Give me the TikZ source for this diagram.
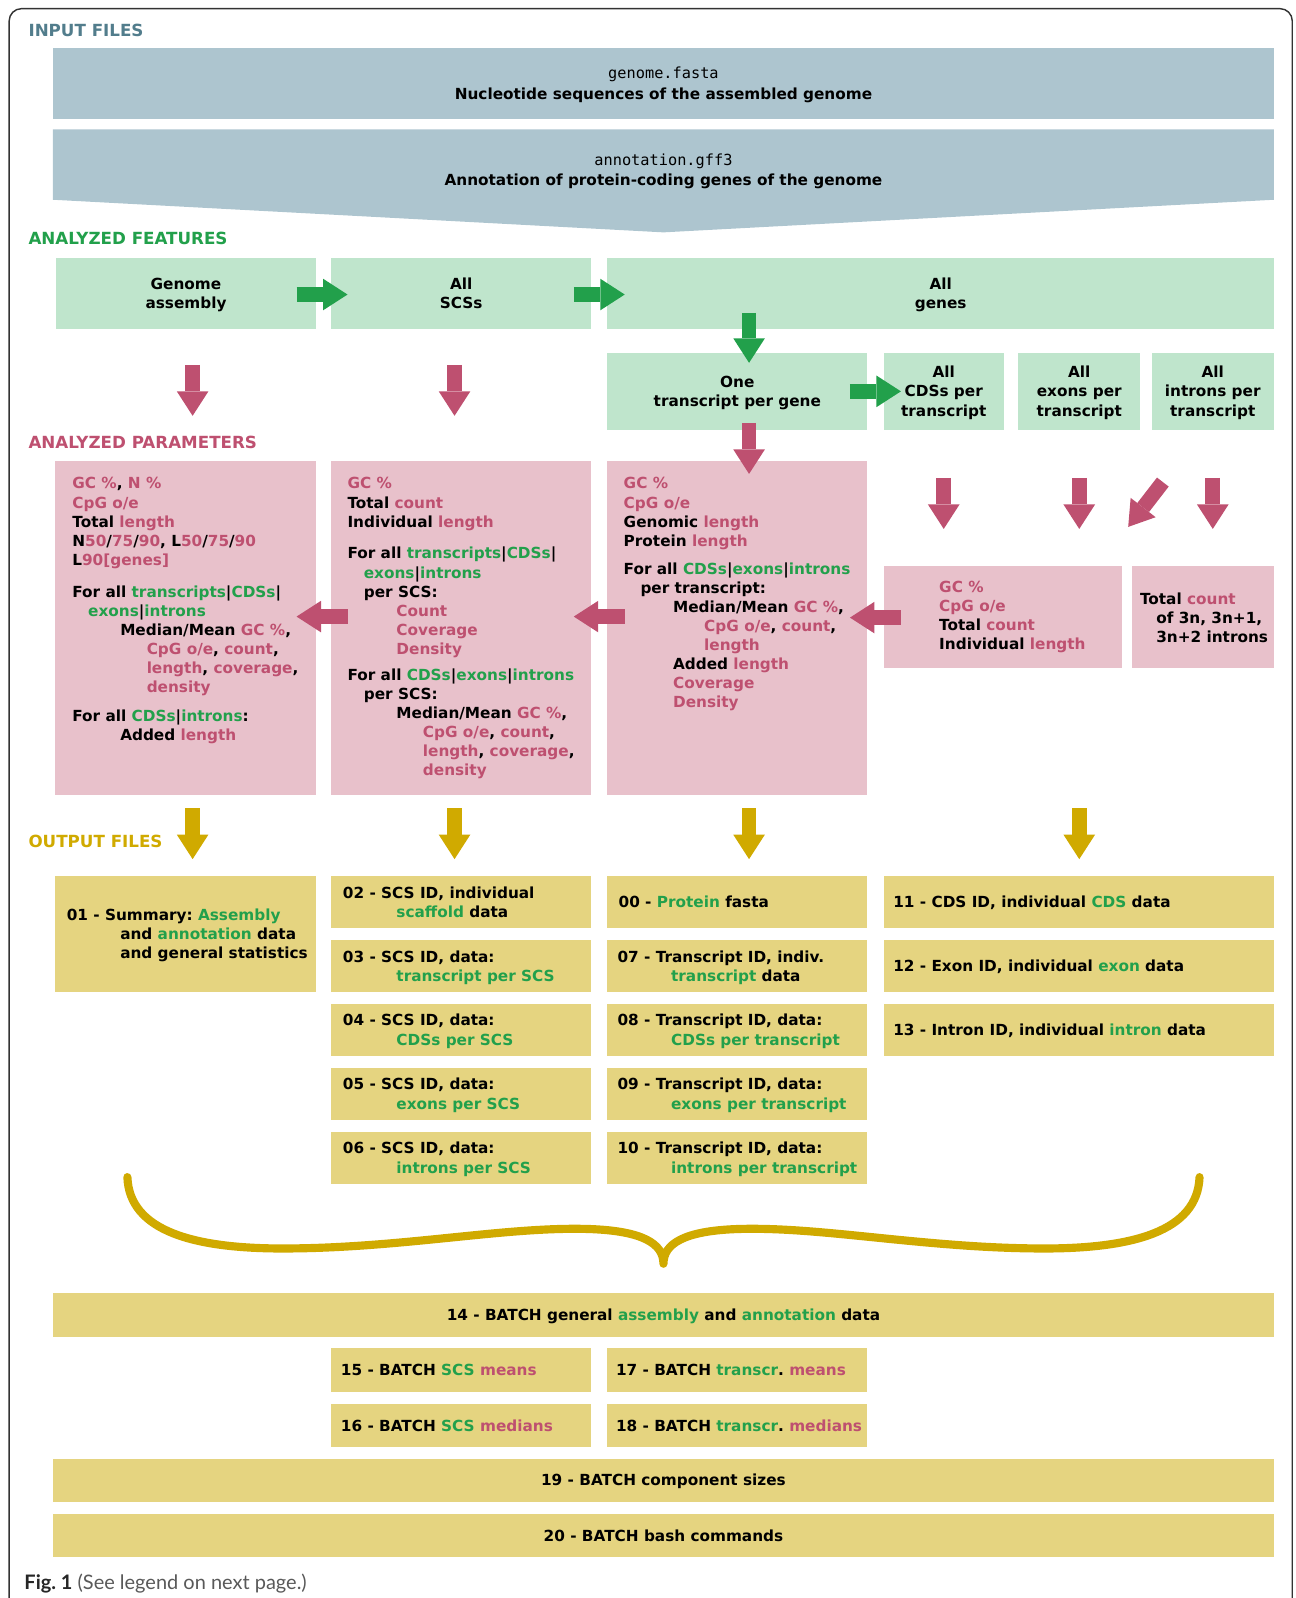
\documentclass[tikz,border=0pt]{standalone}
\usepackage{fontspec}
\setmainfont{DejaVu Sans}
\newfontfamily\monof{DejaVu Sans Mono}
\newfontfamily\capf{Lato}
\usetikzlibrary{arrows.meta}
\definecolor{inc}{RGB}{173,197,207}
\definecolor{inlab}{RGB}{82,125,140}
\definecolor{featc}{RGB}{191,229,204}
\definecolor{greent}{RGB}{34,160,75}
\definecolor{parc}{RGB}{232,193,203}
\definecolor{pinkt}{RGB}{190,80,112}
\definecolor{outc}{RGB}{229,212,128}
\definecolor{goldc}{RGB}{208,170,0}
\newcommand\pnk[1]{\textcolor{pinkt}{#1}}
\newcommand\grn[1]{\textcolor{greent}{#1}}
\newcommand\sth{\rule{0pt}{15.5pt}}
\newcommand\std{\rule[-4.6pt]{0pt}{4.6pt}}
\newcommand\fst{\rule{0pt}{13pt}}
\frenchspacing
\begin{document}
\begin{tikzpicture}[x=1pt,y=-1pt,
  every node/.style={inner sep=0pt,outer sep=0pt,font=\fontsize{15}{18.75}\selectfont\bfseries\frenchspacing},
  sz/.style 2 args={minimum width=#1pt,minimum height=#2pt},
  inbox/.style={fill=inc,align=center},
  featbox/.style={fill=featc,align=center},
  parbox/.style={fill=parc},
  outbox/.style={fill=outc,align=center},
  ptext/.style={anchor=north west,align=left},
  otext/.style={anchor=west,align=left},
  seclabel/.style={anchor=base west,font=\fontsize{16.4}{20}\selectfont\bfseries},
  blockarrow/.style={line width=14.5pt,-{Triangle[length=24pt,width=31pt,line width=0pt]}},
  garr/.style={blockarrow,draw=greent},
  parr/.style={blockarrow,draw=pinkt},
  oarr/.style={blockarrow,draw=goldc}]
\useasboundingbox (0,0) rectangle (1271,1568);
% frame
\draw[line width=1.4pt,draw=black!80,rounded corners=12pt] (9,1568) -- (9,8.5) -- (1268,8.5) -- (1268,1568);
% section labels
\node[seclabel,text=inlab] (lin) at (28,36) {INPUT FILES};
\node[seclabel,text=greent] (lfe) at (28,240) {ANALYZED FEATURES};
\node[seclabel,text=pinkt] (lpa) at (28,440) {ANALYZED PARAMETERS};
\node[seclabel,text=goldc] (lou) at (28,832) {OUTPUT FILES};
% input files
\node[inbox,sz={1198}{70}] (in1) at (651,82) {\sth{\mdseries\monof genome.fasta}\\[1.25pt]Nucleotide sequences of the assembled genome\std};
\fill[inc] (52,127) -- (1250,127) -- (1250,196) -- (651,228) -- (52,196) -- cycle;
\node[align=center] (in2) at (651,167) {\sth{\mdseries\monof annotation.gff3}\\[1.25pt]Annotation of protein-coding genes of the genome\std};
% features
\node[featbox,sz={255}{70}] (ga) at (182.5,288) {\sth Genome\\assembly\std};
\node[featbox,sz={255}{70}] (scs) at (452.5,288) {\sth All\\SCSs\std};
\node[featbox,sz={654}{70}] (genes) at (923,288) {\sth All\\genes\std};
\node[featbox,sz={255}{76}] (one) at (723.5,384) {\sth One\\transcript per gene\std};
\node[featbox,sz={118}{76}] (cds) at (926,384) {\sth All\\CDSs per\\transcript\std};
\node[featbox,sz={120}{76}] (exo) at (1059,384) {\sth All\\exons per\\transcript\std};
\node[featbox,sz={120}{76}] (int) at (1190,384) {\sth All\\introns per\\transcript\std};
% parameter boxes
\node[parbox,sz={256}{328}] (pa) at (182,616) {};
\node[parbox,sz={255}{328}] (pb) at (452.5,616) {};
\node[parbox,sz={255}{328}] (pc) at (723.5,616) {};
\node[parbox,sz={234}{100}] (pd) at (984,605) {};
\node[parbox,sz={139}{100}] (pe) at (1180.5,605) {};
\node[ptext] (ta) at (71,466.8) {\fst\pnk{GC \%}, \pnk{N \%}\\
\pnk{CpG o/e}\\
Total \pnk{length}\\
N\pnk{50}/\pnk{75}/\pnk{90}, L\pnk{50}/\pnk{75}/\pnk{90}\\
L\pnk{90[genes]}\\[12.65pt]
For all \grn{transcripts}|\grn{CDSs}|\\
\hspace*{15.5pt}\grn{exons}|\grn{introns}\\
\hspace*{47pt}Median/Mean \pnk{GC \%},\\
\hspace*{73pt}\pnk{CpG o/e}, \pnk{count},\\
\hspace*{73pt}\pnk{length}, \pnk{coverage},\\
\hspace*{73pt}\pnk{density}\\[9pt]
For all \grn{CDSs}|\grn{introns}:\\
\hspace*{47pt}Added \pnk{length}};
\node[ptext] (tb) at (341,466.8) {\fst\pnk{GC \%}\\
Total \pnk{count}\\
Individual \pnk{length}\\[12.35pt]
For all \grn{transcripts}|\grn{CDSs}|\\
\hspace*{16pt}\grn{exons}|\grn{introns}\\
\hspace*{16pt}per SCS:\\
\hspace*{48pt}\pnk{Count}\\
\hspace*{48pt}\pnk{Coverage}\\
\hspace*{48pt}\pnk{Density}\\[6.75pt]
For all \grn{CDSs}|\grn{exons}|\grn{introns}\\
\hspace*{16pt}per SCS:\\
\hspace*{48pt}Median/Mean \pnk{GC \%},\\
\hspace*{74pt}\pnk{CpG o/e}, \pnk{count},\\
\hspace*{74pt}\pnk{length}, \pnk{coverage},\\
\hspace*{74pt}\pnk{density}};
\node[ptext] (tc) at (612,466.8) {\fst\pnk{GC \%}\\
\pnk{CpG o/e}\\
Genomic \pnk{length}\\
Protein \pnk{length}\\[8.45pt]
For all \grn{CDSs}|\grn{exons}|\grn{introns}\\
\hspace*{16.5pt}per transcript:\\
\hspace*{48.5pt}Median/Mean \pnk{GC \%},\\
\hspace*{79pt}\pnk{CpG o/e}, \pnk{count},\\
\hspace*{79pt}\pnk{length}\\
\hspace*{48.5pt}Added \pnk{length}\\
\hspace*{48.5pt}\pnk{Coverage}\\
\hspace*{48.5pt}\pnk{Density}};
\node[ptext] (td) at (921.6,568.5) {\fst\pnk{GC \%}\\
\pnk{CpG o/e}\\
Total \pnk{count}\\
Individual \pnk{length}};
\node[ptext] (te) at (1118.6,580.3) {\fst Total \pnk{count}\\
\hspace*{16pt}of 3n, 3n+1,\\
\hspace*{16pt}3n+2 introns};
% output boxes
\node[outbox,sz={256}{113}] (o01) at (182,916.5) {};
\node[otext] (t01) at ([xshift=11.5pt]o01.west) {\sth 01 - Summary: \grn{Assembly}\\
\hspace*{52.5pt}and \grn{annotation} data\\
\hspace*{52.5pt}and general statistics\std};
\foreach \nm/\yy in {o02/885.2,o03/947.9,o04/1010.6,o05/1073.4,o06/1136.2}
  \node[outbox,sz={255}{50.7}] (\nm) at (452.5,\yy) {};
\foreach \nm/\yy in {o00/885.2,o07/947.9,o08/1010.6,o09/1073.4,o10/1136.2}
  \node[outbox,sz={255}{50.7}] (\nm) at (723.5,\yy) {};
\foreach \nm/\yy in {o11/885.2,o12/947.9,o13/1010.6}
  \node[outbox,sz={383}{50.7}] (\nm) at (1058.5,\yy) {};
\node[otext] (t02) at ([xshift=11.5pt]o02.west) {\sth 02 - SCS ID, individual\\ \hspace*{52.5pt}\grn{scaffold} data\std};
\node[otext] (t03) at ([xshift=11.5pt]o03.west) {\sth 03 - SCS ID, data:\\ \hspace*{52.5pt}\grn{transcript per SCS}\std};
\node[otext] (t04) at ([xshift=11.5pt]o04.west) {\sth 04 - SCS ID, data:\\ \hspace*{52.5pt}\grn{CDSs per SCS}\std};
\node[otext] (t05) at ([xshift=11.5pt]o05.west) {\sth 05 - SCS ID, data:\\ \hspace*{52.5pt}\grn{exons per SCS}\std};
\node[otext] (t06) at ([xshift=11.5pt]o06.west) {\sth 06 - SCS ID, data:\\ \hspace*{52.5pt}\grn{introns per SCS}\std};
\node[otext] (t00) at ([xshift=11pt]o00.west) {\sth 00 - \grn{Protein} fasta\std};
\node[otext] (t07) at ([xshift=10pt]o07.west) {\sth 07 - Transcript ID, indiv.\\ \hspace*{52.5pt}\grn{transcript} data\std};
\node[otext] (t08) at ([xshift=10pt]o08.west) {\sth 08 - Transcript ID, data:\\ \hspace*{52.5pt}\grn{CDSs per transcript}\std};
\node[otext] (t09) at ([xshift=10pt]o09.west) {\sth 09 - Transcript ID, data:\\ \hspace*{52.5pt}\grn{exons per transcript}\std};
\node[otext] (t10) at ([xshift=10pt]o10.west) {\sth 10 - Transcript ID, data:\\ \hspace*{52.5pt}\grn{introns per transcript}\std};
\node[otext] (t11) at ([xshift=9.5pt]o11.west) {\sth 11 - CDS ID, individual \grn{CDS} data\std};
\node[otext] (t12) at ([xshift=9.5pt]o12.west) {\sth 12 - Exon ID, individual \grn{exon} data\std};
\node[otext] (t13) at ([xshift=9.5pt]o13.west) {\sth 13 - Intron ID, individual \grn{intron} data\std};
% brace
\draw[goldc,line width=8pt,line cap=round,line join=round] (125,1155) .. controls (127,1208) and (190,1226) .. (285,1225) .. controls (400,1224) and (500,1203) .. (580,1206) .. controls (630,1208) and (651,1220) .. (651,1240) .. controls (651,1220) and (672,1208) .. (722,1206) .. controls (802,1203) and (902,1224) .. (1017,1225) .. controls (1112,1226) and (1175,1208) .. (1177,1155);
% batch boxes
\node[outbox,sz={1198}{42.5}] (b14) at (651,1290.25) {\sth 14 - BATCH general \grn{assembly} and \grn{annotation} data\std};
\node[outbox,sz={255}{42.5}] (b15) at (452.5,1344.4) {};
\node[outbox,sz={255}{42.5}] (b17) at (723.5,1344.4) {};
\node[outbox,sz={255}{42.5}] (b16) at (452.5,1399) {};
\node[outbox,sz={255}{42.5}] (b18) at (723.5,1399) {};
\node[otext] (t15) at ([xshift=9.5pt]b15.west) {\sth 15 - BATCH \grn{SCS} \pnk{means}\std};
\node[otext] (t17) at ([xshift=8.5pt]b17.west) {\sth 17 - BATCH \grn{transcr}. \pnk{means}\std};
\node[otext] (t16) at ([xshift=9.5pt]b16.west) {\sth 16 - BATCH \grn{SCS} \pnk{medians}\std};
\node[otext] (t18) at ([xshift=8.5pt]b18.west) {\sth 18 - BATCH \grn{transcr}. \pnk{medians}\std};
\node[outbox,sz={1198}{42.5}] (b19) at (651,1452.5) {\sth 19 - BATCH component sizes\std};
\node[outbox,sz={1198}{42}] (b20) at (651,1506.8) {\sth 20 - BATCH bash commands\std};
% arrow end points
\coordinate (g1s) at (291,289); \coordinate (g1e) at (341,289);
\coordinate (g2s) at (563,289); \coordinate (g2e) at (613,289);
\coordinate (g3s) at (735,307); \coordinate (g3e) at (735,356);
\coordinate (g4s) at (834,384); \coordinate (g4e) at (884,384);
\coordinate (p1s) at (189,358); \coordinate (p1e) at (189,408);
\coordinate (p2s) at (446,358); \coordinate (p2e) at (446,408);
\coordinate (p3s) at (735,415); \coordinate (p3e) at (735,465);
\coordinate (p4s) at (926,469); \coordinate (p4e) at (926,519);
\coordinate (p5s) at (1059,469); \coordinate (p5e) at (1059,519);
\coordinate (p6s) at (1141,473); \coordinate (p6e) at (1107,517);
\coordinate (p7s) at (1190,469); \coordinate (p7e) at (1190,519);
\coordinate (l1s) at (884,606); \coordinate (l1e) at (834,606);
\coordinate (l2s) at (613,605); \coordinate (l2e) at (563,605);
\coordinate (l3s) at (341,605); \coordinate (l3e) at (291,605);
\coordinate (y1s) at (189,793); \coordinate (y1e) at (189,843);
\coordinate (y2s) at (446,793); \coordinate (y2e) at (446,843);
\coordinate (y3s) at (735,793); \coordinate (y3e) at (735,843);
\coordinate (y4s) at (1059,793); \coordinate (y4e) at (1059,843);
\draw[garr] (g1s) -- (g1e);
\draw[garr] (g2s) -- (g2e);
\draw[garr] (g3s) -- (g3e);
\draw[garr] (g4s) -- (g4e);
\foreach \a in {p1,p2,p3,p4,p5,p6,p7,l1,l2,l3}
  \draw[parr] (\a s) -- (\a e);
\foreach \a in {y1,y2,y3,y4}
  \draw[oarr] (\a s) -- (\a e);
% caption
\node[anchor=base west,font=\capf\fontsize{19.6}{22}\selectfont] (cap) at (24,1559.5) {\textcolor{black!85}{\textbf{Fig. 1}} \textcolor{black!65}{(See legend on next page.)}};
\end{tikzpicture}
\end{document}
